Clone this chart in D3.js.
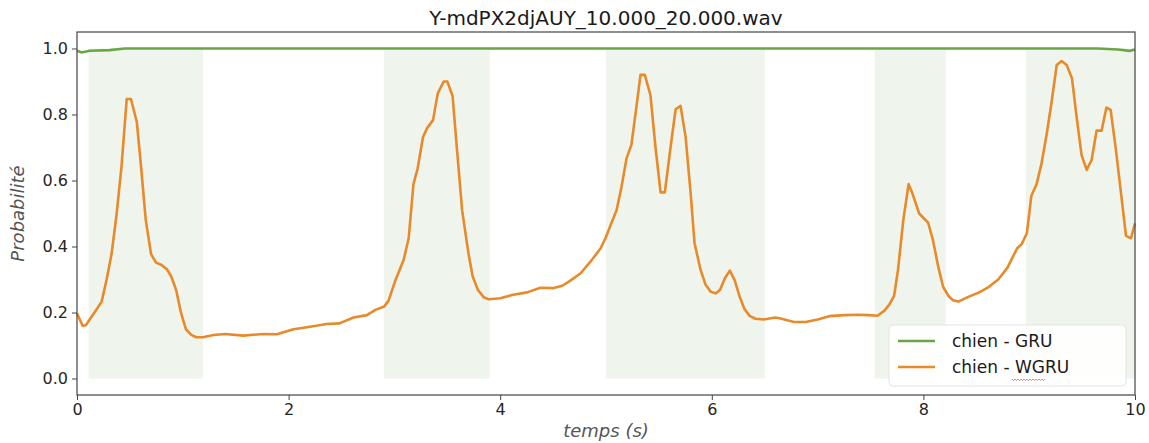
<!DOCTYPE html>
<html>
<head>
<meta charset="utf-8">
<script src="https://cdn.jsdelivr.net/npm/d3@7"></script>
<style>
  body { margin: 0; background: #fff; }
  svg text { font-family: "DejaVu Sans", sans-serif; }
</style>
</head>
<body>
<div id="container"></div>
<script>
'use strict'

// time (s) and probability of the WGRU curve
const wgruT = [
  0, 0.054, 0.085, 0.17, 0.233, 0.28, 0.328, 0.375, 0.42, 0.47,
  0.51, 0.565, 0.60, 0.65, 0.70, 0.747, 0.80, 0.85, 0.89, 0.937,
  0.984, 1.03, 1.08, 1.126, 1.19, 1.29, 1.40, 1.573, 1.763, 1.89,
  2.046, 2.204, 2.36, 2.48, 2.614, 2.74, 2.82, 2.904, 2.945, 3.01,
  3.087, 3.135, 3.18, 3.22, 3.27, 3.308, 3.365, 3.41, 3.466, 3.50,
  3.55, 3.59, 3.64, 3.70, 3.74, 3.79, 3.845, 3.89, 4.0, 4.11,
  4.255, 4.38, 4.506, 4.586, 4.66, 4.76, 4.853, 4.948, 4.995, 5.05,
  5.10, 5.147, 5.194, 5.24, 5.29, 5.326, 5.367, 5.42, 5.468, 5.516,
  5.556, 5.61, 5.658, 5.705, 5.752, 5.80, 5.837, 5.894, 5.94, 5.99,
  6.036, 6.077, 6.124, 6.17, 6.216, 6.263, 6.31, 6.36, 6.414, 6.49,
  6.60, 6.65, 6.777, 6.887, 7.0, 7.11, 7.25, 7.376, 7.486, 7.566,
  7.63, 7.676, 7.723, 7.76, 7.81, 7.86, 7.896, 7.96, 8.045, 8.09,
  8.14, 8.186, 8.237, 8.28, 8.33, 8.43, 8.527, 8.62, 8.707, 8.795,
  8.885, 8.93, 8.978, 9.02, 9.07, 9.117, 9.164, 9.21, 9.26, 9.306,
  9.354, 9.404, 9.448, 9.495, 9.543, 9.59, 9.637, 9.684, 9.73, 9.77,
  9.82, 9.868, 9.915, 9.962, 10.0
];
const wgruP = [
  0.198, 0.159, 0.162, 0.202, 0.233, 0.30, 0.38, 0.50, 0.64, 0.847,
  0.847, 0.778, 0.662, 0.48, 0.377, 0.351, 0.344, 0.331, 0.31, 0.268,
  0.198, 0.149, 0.132, 0.125, 0.125, 0.132, 0.135, 0.130, 0.135, 0.134,
  0.149, 0.157, 0.165, 0.167, 0.185, 0.192, 0.208, 0.218, 0.236, 0.298,
  0.359, 0.425, 0.589, 0.637, 0.731, 0.758, 0.783, 0.864, 0.90, 0.90,
  0.856, 0.70, 0.51, 0.379, 0.309, 0.268, 0.246, 0.24, 0.243, 0.253,
  0.261, 0.275, 0.274, 0.281, 0.296, 0.319, 0.354, 0.394, 0.425, 0.47,
  0.51, 0.581, 0.667, 0.708, 0.829, 0.92, 0.92, 0.859, 0.70, 0.564,
  0.564, 0.70, 0.816, 0.826, 0.733, 0.561, 0.41, 0.329, 0.285, 0.263,
  0.258, 0.268, 0.304, 0.327, 0.298, 0.248, 0.21, 0.189, 0.181, 0.179,
  0.185, 0.182, 0.171, 0.171, 0.179, 0.189, 0.192, 0.193, 0.192, 0.19,
  0.205, 0.223, 0.25, 0.329, 0.48, 0.589, 0.561, 0.50, 0.472, 0.42,
  0.339, 0.278, 0.25, 0.237, 0.233, 0.248, 0.261, 0.278, 0.30, 0.336,
  0.394, 0.408, 0.44, 0.553, 0.589, 0.652, 0.738, 0.834, 0.95, 0.962,
  0.95, 0.91, 0.793, 0.677, 0.632, 0.662, 0.751, 0.751, 0.821, 0.814,
  0.692, 0.561, 0.432, 0.425, 0.47
];

// GRU curve stays at ~1
const gruT = [0, 0.044, 0.12, 0.31, 0.45, 9.65, 9.84, 9.95, 10];
const gruP = [0.993, 0.988, 0.993, 0.995, 1.0, 1.0, 0.997, 0.993, 0.997];

// annotated "chien" segments (s)
const segStart = [0.11, 2.90, 5.0, 7.54, 8.97];
const segEnd   = [1.19, 3.90, 6.50, 8.21, 10.0];

const xTicks = [0, 2, 4, 6, 8, 10];
const yTicks = [0.0, 0.2, 0.4, 0.6, 0.8, 1.0];
const seriesNames = ['chien - GRU', 'chien - WGRU'];

const w = 1149, h = 443;
const mLeft = 77, mRight = 1135, mTop = 32, mBottom = 395;
const green = '#6aa548', orange = '#e8892a';

const svg = d3.select('#container').append('svg')
  .attr('width', w).attr('height', h);

const xScale = d3.scaleLinear().domain([0, 10]).range([mLeft, mRight]);
const yScale = d3.scaleLinear().domain([-0.05, 1.05]).range([mBottom, mTop]);

// shaded segments
svg.selectAll('rect.seg')
  .data(d3.zip(segStart, segEnd))
  .enter().append('rect')
  .attr('class', 'seg')
  .attr('x', d => xScale(d[0]))
  .attr('width', d => xScale(d[1]) - xScale(d[0]))
  .attr('y', yScale(1))
  .attr('height', yScale(0) - yScale(1))
  .attr('fill', '#eff5ec');

const line = d3.line().x(d => xScale(d[0])).y(d => yScale(d[1]));

svg.append('path')
  .datum(d3.zip(gruT, gruP))
  .attr('d', line)
  .attr('fill', 'none').attr('stroke', green).attr('stroke-width', 2.6);

svg.append('path')
  .datum(d3.zip(wgruT, wgruP))
  .attr('d', line)
  .attr('fill', 'none').attr('stroke', orange).attr('stroke-width', 2.6)
  .attr('stroke-linejoin', 'round');

// axes
const xAxis = d3.axisBottom(xScale).tickValues(xTicks).tickSize(5).tickPadding(4);
const gx = svg.append('g').attr('transform', 'translate(0,' + mBottom + ')').call(xAxis);
const yAxis = d3.axisLeft(yScale).tickValues(yTicks).tickSize(5).tickPadding(4).tickFormat(d3.format('.1f'));
const gy = svg.append('g').attr('transform', 'translate(' + mLeft + ',0)').call(yAxis);

[gx, gy].forEach(g => {
  g.select('.domain').remove();
  g.selectAll('.tick line').attr('stroke', '#444');
  g.selectAll('.tick text').attr('fill', '#262626').style('font-size', '16px')
    .style('font-family', '"DejaVu Sans", sans-serif');
});

svg.append('rect')
  .attr('x', mLeft).attr('y', mTop)
  .attr('width', mRight - mLeft).attr('height', mBottom - mTop)
  .attr('fill', 'none').attr('stroke', '#444').attr('stroke-width', 1.2);

// texts
svg.append('text').text('Y-mdPX2djAUY_10.000_20.000.wav')
  .attr('x', (mLeft + mRight) / 2).attr('y', 25)
  .attr('text-anchor', 'middle').style('font-size', '20px').attr('fill', '#1a1a1a');

svg.append('text').text('temps (s)')
  .attr('x', (mLeft + mRight) / 2).attr('y', 437)
  .attr('text-anchor', 'middle').style('font-size', '18px').style('font-style', 'italic')
  .attr('fill', '#555');

svg.append('text').text('Probabilité')
  .attr('transform', 'translate(24,' + (mTop + mBottom) / 2 + ') rotate(-90)')
  .attr('text-anchor', 'middle').style('font-size', '18px').style('font-style', 'italic')
  .attr('fill', '#555');

// legend
const lg = svg.append('g').attr('transform', 'translate(889,325)');
lg.append('rect').attr('width', 237).attr('height', 61).attr('rx', 4)
  .attr('fill', 'white').attr('fill-opacity', 0.9).attr('stroke', '#e3e3e3');
seriesNames.forEach((name, i) => {
  const yy = 16 + i * 26;
  lg.append('line').attr('x1', 9).attr('x2', 46).attr('y1', yy).attr('y2', yy)
    .attr('stroke', i === 0 ? green : orange).attr('stroke-width', 2.6);
  lg.append('text').text(name).attr('x', 63).attr('y', yy + 6)
    .style('font-size', '17px').attr('fill', '#1a1a1a');
});
// spell-check squiggle under "WGRU"
let sq = 'M123,54';
for (let k = 0; k < 22; k++) sq += ' l1.5,' + (k % 2 ? -1.5 : 1.5);
lg.append('path').attr('d', sq).attr('fill', 'none').attr('stroke', '#e06a6a').attr('stroke-width', 0.8);
</script>
</body>
</html>
